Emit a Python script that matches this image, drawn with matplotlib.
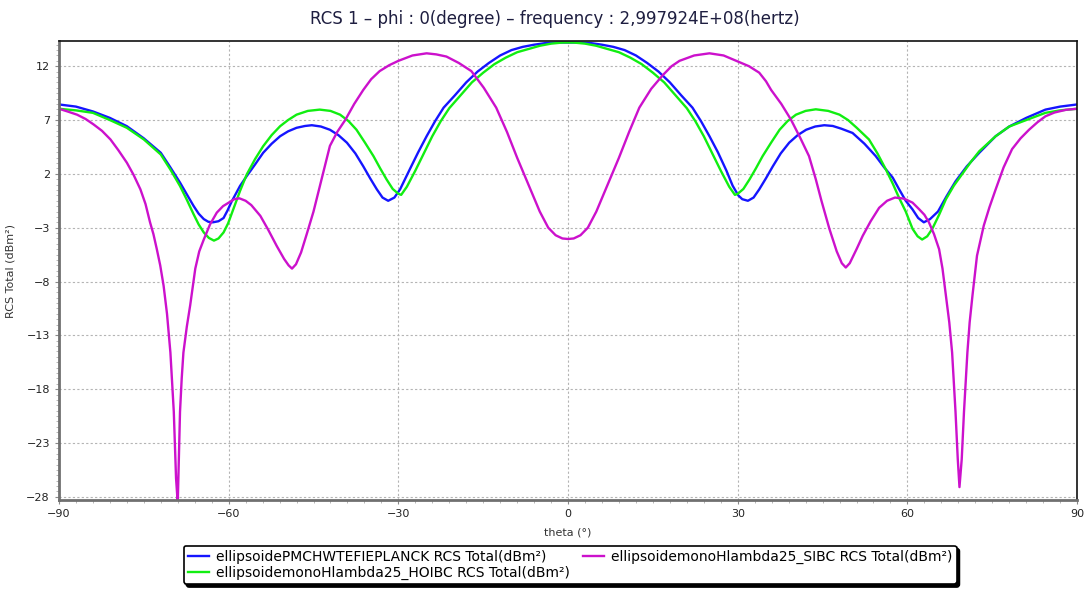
import matplotlib
matplotlib.use("Agg")
import matplotlib.pyplot as plt
from matplotlib.ticker import MultipleLocator
from matplotlib.lines import Line2D

# PMCHWT / EFIE reference (blue)
theta_pm = [-90, -87, -84, -81, -78, -75, -72, -70.3, -68.6, -67.4, -66.2, -65.3,
            -64.4, -63.6, -62.8, -61.8, -60.9, -60.2, -59.5, -58, -56.8, -55.3,
            -53.9, -52.4, -50.9, -49.5, -48, -46.5, -45.3, -43.7, -42.1, -40.6,
            -39.1, -37.6, -36.2, -35, -33.8, -32.8, -31.8, -30.7, -29.7, -28,
            -26.5, -25, -23.5, -22, -20, -18, -16, -14, -12, -10, -8, -6, -4,
            -2, 0, 2, 4, 6, 8, 10, 12, 14, 16, 18, 20, 22, 23.5, 25, 26.5, 28,
            29.1, 30.1, 30.8, 31.8, 32.8, 33.8, 35, 36.2, 37.6, 39.1, 40.6, 42.1,
            43.7, 45.3, 46.8, 48.3, 50.3, 52.4, 54.4, 55.9, 57.4, 58.5, 59.7,
            60.9, 61.9, 62.9, 64.0, 65.4, 66.9, 68.5, 70.5, 72.7, 75.6, 78, 81,
            84.4, 87, 90]
rcs_pm = [8.45, 8.25, 7.8, 7.2, 6.43, 5.3, 3.96, 2.6, 1.19, 0.1, -0.98, -1.7,
          -2.2, -2.45, -2.5, -2.4, -2.1, -1.4, -0.6, 0.87, 1.8, 2.9,
          3.96, 4.8, 5.5, 5.95, 6.28, 6.45, 6.52, 6.4, 6.1, 5.6,
          4.9, 3.9, 2.7, 1.6, 0.56, -0.2, -0.5, -0.2, 0.56, 2.4,
          4.0, 5.5, 6.9, 8.15, 9.3, 10.5, 11.5, 12.3, 13.0, 13.5, 13.8, 14.0, 14.15,
          14.2, 14.2, 14.2, 14.15, 14.0, 13.8, 13.5, 13.0, 12.3, 11.5, 10.5, 9.3, 8.15, 6.9, 5.5, 4.0, 2.3,
          0.9, 0.0, -0.35, -0.5, -0.2, 0.56, 1.6, 2.7, 3.9, 4.9, 5.6, 6.1,
          6.4, 6.52, 6.45, 6.2, 5.8, 4.8, 3.65, 2.6, 1.65, 0.6, -0.5,
          -1.3, -2.1, -2.5, -2.2, -1.5, -0.1, 1.3, 2.7, 3.96, 5.5, 6.4, 7.2,
          7.97, 8.25, 8.45]

# HOIBC (green)
theta_ho = [-90, -87, -84, -81, -78, -75, -72, -70.3, -68.6, -67.4, -66.2, -65.3,
            -64.4, -63.5, -62.6, -61.8, -60.9, -60.1, -59.4, -58, -56.8, -55.3,
            -53.9, -52.4, -50.9, -49.5, -48, -46, -43.9, -42, -40.3, -38.8,
            -37.4, -35.9, -34.4, -33.2, -32.1, -31, -30, -29.5, -28.5, -27,
            -25.5, -24, -22.5, -21, -19, -17, -15, -13, -11, -9, -7, -5, -3, -1,
            0, 1, 3, 5, 7, 9, 11, 13, 15, 17, 19, 21, 22.5, 24, 25.5, 27, 28.5,
            29.5, 30, 31, 32.1, 33.2, 34.4, 35.9, 37.4, 38.8, 40.3, 42, 43.8,
            46, 48, 49.5, 51, 53.2, 54.7, 56.2, 57.4, 58.5, 59.7, 60.9, 61.8,
            62.6, 63.5, 64.4, 65.6, 66.8, 68.2, 69.7, 71.2, 72.7, 75.6, 78, 81,
            84.4, 87, 90]
rcs_ho = [8.05, 7.9, 7.67, 7.0, 6.28, 5.2, 3.8, 2.4, 0.87, -0.4, -1.75, -2.7,
          -3.44, -3.95, -4.2, -4.0, -3.44, -2.6, -1.6, 0.4, 1.95, 3.4,
          4.57, 5.6, 6.43, 7.0, 7.5, 7.85, 7.97, 7.85, 7.5, 6.9,
          6.1, 4.9, 3.65, 2.5, 1.5, 0.6, 0.15, 0.05, 0.8, 2.3,
          3.9, 5.5, 6.9, 8.1, 9.3, 10.5, 11.4, 12.2, 12.8, 13.3, 13.6, 13.9, 14.1, 14.2,
          14.2, 14.2, 14.1, 13.9, 13.6, 13.3, 12.8, 12.2, 11.4, 10.5, 9.3, 8.1, 6.9, 5.5, 3.9, 2.3, 0.8,
          0.05, 0.15, 0.6, 1.5, 2.5, 3.65, 4.9, 6.1, 6.9, 7.5, 7.85, 8.0,
          7.85, 7.5, 7.0, 6.3, 5.2, 3.9, 2.4, 1.1, -0.2, -1.5, -3.1, -3.8,
          -4.1, -3.8, -3.1, -1.8, -0.36, 0.9, 2.0, 3.1, 4.1, 5.5, 6.4, 7.0,
          7.67, 7.9, 8.05]

# SIBC (magenta)
theta_si = [-90, -88.5, -86.8, -85.3, -83.9, -82.4, -80.9, -79.5, -78, -76.8,
            -75.6, -74.7, -73.9, -73.3, -72.7, -72.1, -71.5, -70.9, -70.3, -69.7,
            -69.3, -69.0, -68.6, -68.3, -68.0, -67.4, -66.8, -65.9, -65.2, -64.4,
            -63.3, -62.1, -61, -60, -59, -58.1, -57, -56, -55.2, -54.4, -53,
            -51.5, -50.2, -49.4, -48.8, -48.1, -47.2, -46.2, -45, -43.9, -43,
            -42.1, -40.8, -39.4, -37.8, -36.2, -34.8, -33.3, -31.6, -30, -27.5,
            -25, -23.3, -21.5, -19.3, -17.1, -14.9, -12.7, -10.8, -9, -7, -5,
            -3.5, -2.2, -1, 0, 1, 2.2, 3.5, 5, 7, 9, 10.8, 12.6, 14.7, 16.8,
            18.3, 19.7, 22.3, 25, 27.5, 30, 32, 33.8, 35, 35.9, 37.7, 39.4, 41,
            42.6, 43.8, 44.8, 46.2, 47.5, 48.4, 49.1, 49.8, 51, 52.1, 53.5, 55,
            56.4, 57.8, 59.4, 60.9, 62.1, 63, 63.8, 64.7, 65.6, 66.2, 66.8, 67.4,
            67.9, 68.5, 68.9, 69.2, 69.6, 70.0, 70.6, 71.0, 71.5, 72.3, 73.5,
            74.5, 75.6, 77, 78.5, 80, 81.5, 83, 84.4, 86, 88, 90]
rcs_si = [8.05, 7.8, 7.5, 7.1, 6.6, 6.0, 5.2, 4.2, 3.04, 1.9,
          0.56, -0.8, -2.5, -3.6, -5.0, -6.5, -8.4, -11.0, -14.6, -20.1,
          -26.3, -28.6, -20.1, -17.0, -14.6, -12.2, -10.2, -6.8, -5.2, -4.1,
          -2.7, -1.6, -1.0, -0.67, -0.35, -0.27, -0.5, -0.9, -1.4, -1.9, -3.2,
          -4.7, -5.9, -6.5, -6.8, -6.4, -5.3, -3.6, -1.5, 0.8, 2.7,
          4.6, 5.9, 7.0, 8.5, 9.8, 10.8, 11.55, 12.1, 12.5, 13.0,
          13.2, 13.1, 12.9, 12.3, 11.55, 10.0, 8.15, 5.9, 3.5, 1.0, -1.5,
          -3.0, -3.7, -4.0, -4.05, -4.0, -3.7, -3.0, -1.5, 1.0, 3.5, 5.9, 8.15, 9.9, 11.2,
          12.0, 12.5, 13.0, 13.2, 13.0, 12.45, 12.0, 11.4, 10.6, 9.8, 8.5, 7.05, 5.4,
          3.65, 1.5, -0.5, -3.1, -5.2, -6.3, -6.7, -6.3, -5.0, -3.75, -2.4, -1.15,
          -0.5, -0.2, -0.3, -0.67, -1.3, -1.8, -2.5, -3.6, -5.0, -6.8, -9.3, -11.8,
          -14.6, -20.1, -24.5, -27.1, -24.5, -20.1, -14.6, -11.8, -9.3, -5.6, -2.8,
          -1.1, 0.56, 2.6, 4.3, 5.3, 6.1, 6.8, 7.35, 7.7, 7.95, 8.05]

labels = ["ellipsoidePMCHWTEFIEPLANCK RCS Total(dBm²)",
          "ellipsoidemonoHlambda25_HOIBC RCS Total(dBm²)",
          "ellipsoidemonoHlambda25_SIBC RCS Total(dBm²)"]
colors = ["#1515ff", "#11ee11", "#cc11cc"]

x_ticks = [-90, -60, -30, 0, 30, 60, 90]
y_ticks = [12, 7, 2, -3, -8, -13, -18, -23, -28]

fig = plt.figure(figsize=(10.88, 5.90), dpi=100)
ax = fig.add_axes([0.0542, 0.1525, 0.9358, 0.7772])

ax.plot(theta_pm, rcs_pm, color=colors[0], lw=1.7, label=labels[0])
ax.plot(theta_ho, rcs_ho, color=colors[1], lw=1.7, label=labels[1])
ax.plot(theta_si, rcs_si, color=colors[2], lw=1.7, label=labels[2])

ax.set_xlim(-90, 90)
ax.set_ylim(-28.3, 14.3)
ax.set_xticks(x_ticks)
ax.set_yticks(y_ticks)
ax.xaxis.set_minor_locator(MultipleLocator(3))
ax.yaxis.set_minor_locator(MultipleLocator(0.5))
ax.tick_params(which="major", labelsize=8, length=3, color="#888888", labelcolor="#222222")
ax.tick_params(which="minor", length=2, color="#aaaaaa")
ax.grid(True, which="major", color="#b4b4b4", linestyle=(0, (2, 2)), lw=0.8)

for s in ["left", "bottom"]:
    ax.spines[s].set_color("#707070")
    ax.spines[s].set_linewidth(2)
for s in ["top", "right"]:
    ax.spines[s].set_color("#111111")
    ax.spines[s].set_linewidth(1.2)

ax.set_xlabel("theta (°)", fontsize=8, color="#333333", labelpad=6)
ax.set_ylabel("RCS Total (dBm²)", fontsize=8, color="#333333", labelpad=8)
fig.text(0.51, 0.968, "RCS 1 – phi : 0(degree) – frequency : 2,997924E+08(hertz)",
         ha="center", va="center", fontsize=12, color="#1e1e40")

leg = fig.legend(loc="center", bbox_to_anchor=(0.524, 0.0424), ncol=2,
                 fontsize=10, frameon=True, fancybox=True,
                 shadow={"color": "black", "alpha": 1.0},
                 edgecolor="black", handlelength=1.5, handletextpad=0.5,
                 columnspacing=1.0, borderpad=0.3, labelspacing=0.15)
leg.get_frame().set_linewidth(1.2)
leg.get_frame().set_alpha(1.0)

fig.canvas.draw()
bb = leg.get_window_extent().transformed(fig.transFigure.inverted())
x_div = leg.get_texts()[1].get_window_extent().transformed(fig.transFigure.inverted()).x1 + 0.004
fig.add_artist(Line2D([x_div, x_div], [bb.y0, bb.y1], color="black", lw=0.8))

fig.savefig("out.png", dpi=100)
